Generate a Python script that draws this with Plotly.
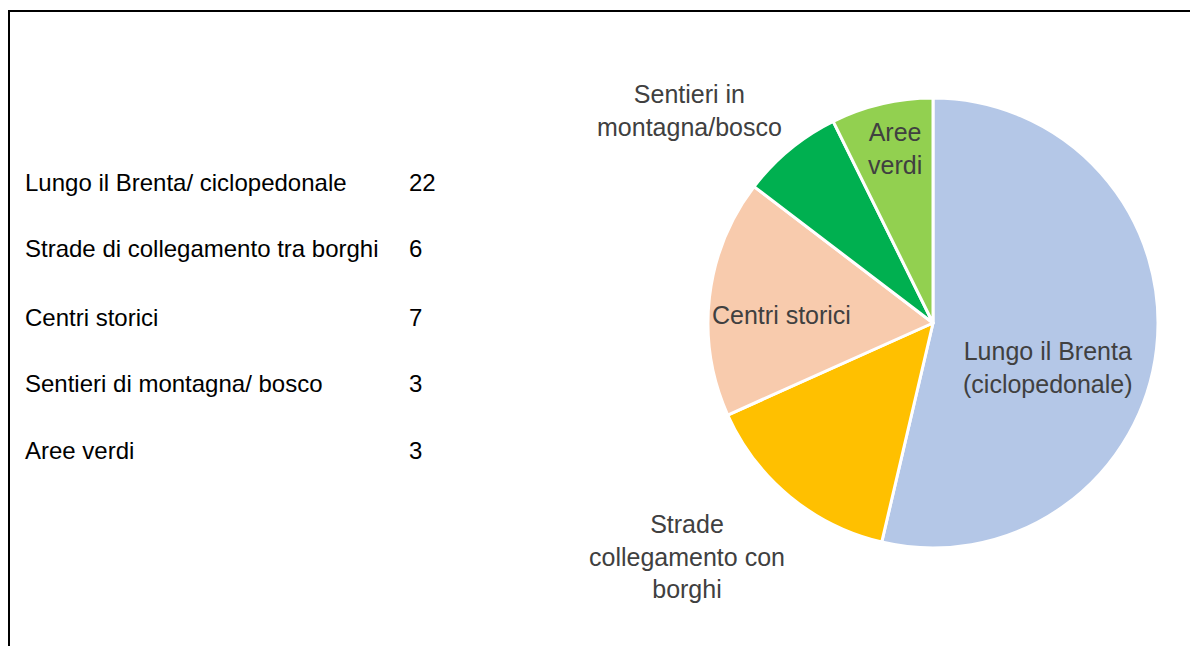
import plotly.graph_objects as go

# --- data ---
table_labels = [
    "Lungo il Brenta/ ciclopedonale",
    "Strade di collegamento tra borghi",
    "Centri storici",
    "Sentieri di montagna/ bosco",
    "Aree verdi",
]
values = [22, 6, 7, 3, 3]
pie_labels = [
    "Lungo il Brenta<br>(ciclopedonale)",
    "Strade<br>collegamento con<br>borghi",
    "Centri storici",
    "Sentieri in<br>montagna/bosco",
    "Aree<br>verdi",
]
colors = ["#B4C7E7", "#FFC000", "#F8CBAD", "#00B050", "#92D050"]

W, H = 1198, 646
OFF = 8  # page body margin
FONT = "Liberation Sans, Arial, sans-serif"


def px(x):
    return (x - OFF) / W


def py(y):
    return 1 - (y - OFF) / H


fig = go.Figure()
fig.add_trace(go.Pie(
    labels=table_labels,
    values=values,
    sort=False,
    direction="clockwise",
    rotation=0,
    marker=dict(colors=colors, line=dict(color="white", width=3)),
    textinfo="none",
    hoverinfo="label+value",
    showlegend=False,
    domain=dict(x=[px(708), px(1158)], y=[py(548), py(98)]),
))

annotations = []
# left table
row_y = [182, 249, 317, 383, 450]
for lab, val, ry in zip(table_labels, values, row_y):
    annotations.append(dict(x=px(23), y=py(ry), xref="paper", yref="paper",
                            text=lab, showarrow=False, xanchor="left", yanchor="middle",
                            font=dict(family=FONT, size=24, color="#000000")))
    annotations.append(dict(x=px(407), y=py(ry), xref="paper", yref="paper",
                            text=str(val), showarrow=False, xanchor="left", yanchor="middle",
                            font=dict(family=FONT, size=24, color="#000000")))

# pie labels
label_pos = [(1048, 367), (687, 556), (781, 315), (690, 110), (895, 149)]
for lab, (lx, ly) in zip(pie_labels, label_pos):
    annotations.append(dict(x=px(lx), y=py(ly), xref="paper", yref="paper",
                            text=lab, showarrow=False, xanchor="center", yanchor="middle",
                            align="center",
                            font=dict(family=FONT, size=25, color="#404040")))

shapes = [
    dict(type="line", xref="paper", yref="paper", x0=px(9), x1=px(9), y0=-0.05, y1=py(10),
         line=dict(color="black", width=2)),
    dict(type="line", xref="paper", yref="paper", x0=px(8), x1=1.05, y0=py(11), y1=py(11),
         line=dict(color="black", width=2)),
]

fig.update_layout(
    width=W, height=H,
    margin=dict(l=0, r=0, t=0, b=0),
    paper_bgcolor="white", plot_bgcolor="white",
    annotations=annotations,
    shapes=shapes,
)

fig.write_html("out.html")
